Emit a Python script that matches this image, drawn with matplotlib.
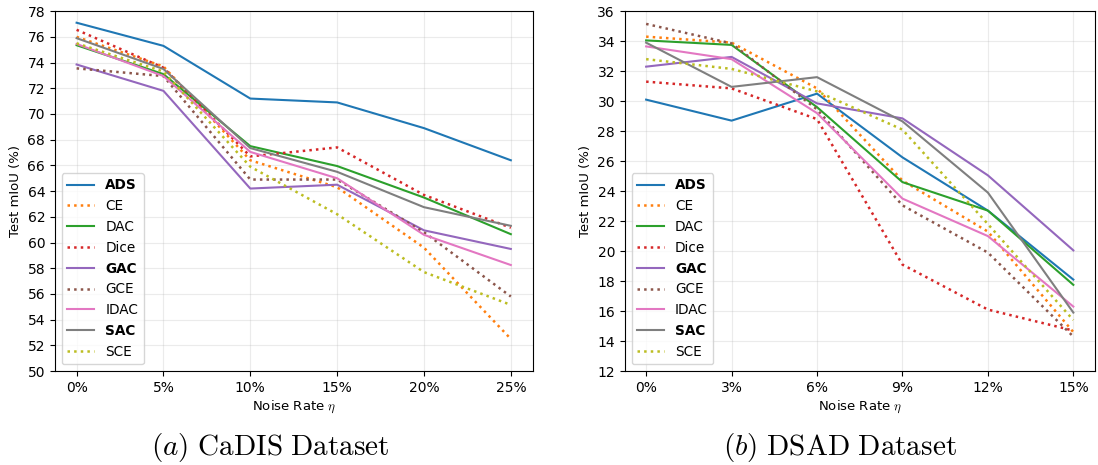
import matplotlib
matplotlib.use("Agg")
import matplotlib.pyplot as plt

plt.rcParams["mathtext.fontset"] = "cm"

# ── Data ──────────────────────────────────────────────────────────────────────

methods = ["ADS", "CE", "DAC", "Dice", "GAC", "GCE", "IDAC", "SAC", "SCE"]
dotted = {"CE", "Dice", "GCE", "SCE"}
bold = {"ADS", "GAC", "SAC"}

cadis_rates = ["0%", "5%", "10%", "15%", "20%", "25%"]
cadis = {
    "ADS":  [77.1, 75.3, 71.2, 70.9, 68.9, 66.4],
    "CE":   [76.0, 73.7, 66.4, 64.3, 59.6, 52.5],
    "DAC":  [75.35, 73.1, 67.5, 65.95, 63.5, 60.65],
    "Dice": [76.55, 73.6, 66.7, 67.4, 63.7, 61.15],
    "GAC":  [73.85, 71.8, 64.2, 64.5, 60.95, 59.5],
    "GCE":  [73.55, 72.95, 64.9, 64.9, 60.8, 55.8],
    "IDAC": [75.45, 72.95, 67.05, 65.0, 60.6, 58.25],
    "SAC":  [75.9, 73.5, 67.35, 65.5, 62.75, 61.3],
    "SCE":  [75.5, 73.3, 65.9, 62.2, 57.7, 55.15],
}

dsad_rates = ["0%", "3%", "6%", "9%", "12%", "15%"]
dsad = {
    "ADS":  [30.1, 28.7, 30.5, 26.25, 22.7, 18.1],
    "CE":   [34.3, 33.9, 30.85, 24.7, 21.3, 14.6],
    "DAC":  [34.05, 33.75, 29.6, 24.6, 22.7, 17.75],
    "Dice": [31.3, 30.85, 28.8, 19.1, 16.1, 14.7],
    "GAC":  [32.3, 32.95, 29.85, 28.85, 25.05, 20.05],
    "GCE":  [35.15, 33.85, 29.45, 23.05, 19.9, 14.3],
    "IDAC": [33.65, 32.8, 29.2, 23.5, 21.0, 16.3],
    "SAC":  [33.9, 30.95, 31.6, 28.65, 23.9, 15.9],
    "SCE":  [32.8, 32.15, 30.65, 28.1, 21.8, 15.4],
}


def draw(ax, rates, data, ylim):
    x = list(range(len(rates)))
    for i, m in enumerate(methods):
        ls = ":" if m in dotted else "-"
        lw = 1.8 if m in dotted else 1.5
        ax.plot(x, data[m], linestyle=ls, linewidth=lw, color=f"C{i}", label=m)
    ax.set_xticks(x)
    ax.set_xticklabels(rates)
    ax.set_ylim(*ylim)
    ax.set_yticks(range(ylim[0], ylim[1] + 1, 2))
    ax.grid(True, alpha=0.25)
    ax.set_xlabel(r"Noise Rate $\eta$", fontsize=9.5, labelpad=3)
    ax.set_ylabel("Test mIoU (%)", fontsize=9.5)
    leg = ax.legend(loc="lower left", fontsize=9.8)
    for t in leg.get_texts():
        if t.get_text() in bold:
            t.set_fontweight("bold")


fig = plt.figure(figsize=(10.98, 4.65), dpi=100)
ax1 = fig.add_axes([0.050, 0.202, 0.435, 0.774])
ax2 = fig.add_axes([0.569, 0.202, 0.428, 0.774])

draw(ax1, cadis_rates, cadis, (50, 78))
draw(ax2, dsad_rates, dsad, (12, 36))

fig.text(0.246, 0.038, r"$(a)\ \mathrm{CaDIS\ Dataset}$", ha="center",
         va="center", fontsize=21)
fig.text(0.765, 0.038, r"$(b)\ \mathrm{DSAD\ Dataset}$", ha="center",
         va="center", fontsize=21)

fig.savefig("out.png", dpi=100)
